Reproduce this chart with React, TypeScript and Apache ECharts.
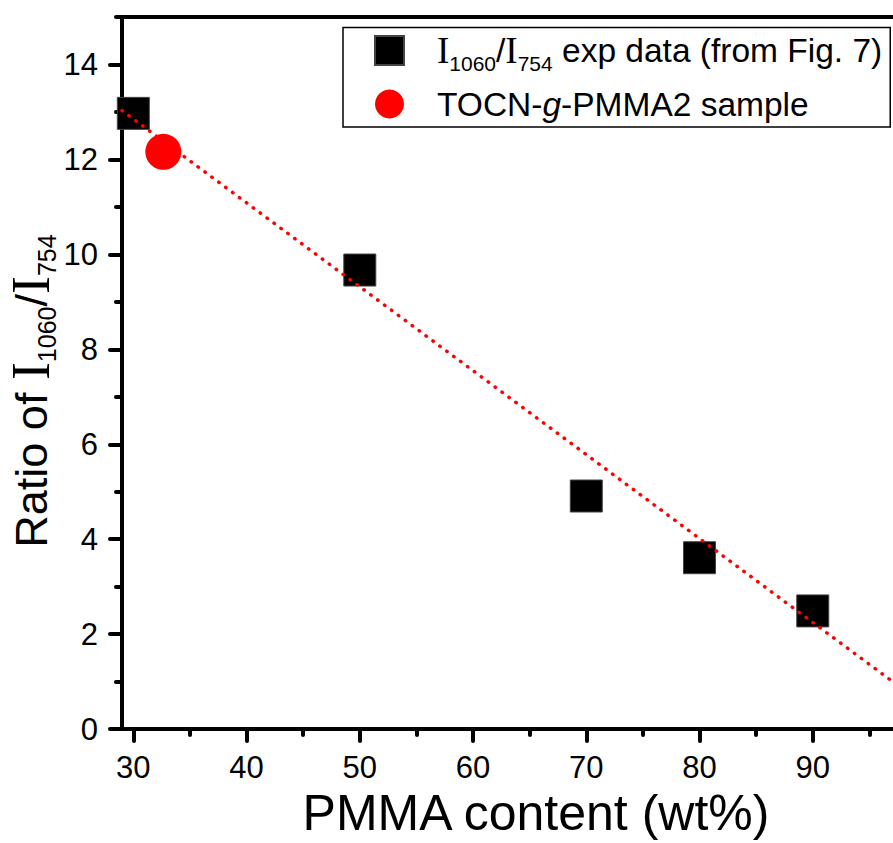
import React, { useEffect, useRef } from 'react';
import * as echarts from 'echarts';

const expName = 'I1060/I754 exp data (from Fig. 7)';
const sampleName = 'TOCN-g-PMMA2 sample';
const fitName = 'Linear fit';

const expX = [30, 50, 70, 80, 90];
const expY = [12.97, 9.67, 4.91, 3.61, 2.49];
const sampleX = [32.65];
const sampleY = [12.16];
const fitX = [29, 100];
const fitY = [13.03, 0.48];

const xMajorTicks = [30, 40, 50, 60, 70, 80, 90, 100];
const xTickLabels = [30, 40, 50, 60, 70, 80, 90];
const xMinorTicks = [35, 45, 55, 65, 75, 85, 95];
const yMajorTicks = [0, 2, 4, 6, 8, 10, 12, 14];
const yMinorTicks = [1, 3, 5, 7, 9, 11, 13, 15];

const xTitle = 'PMMA content (wt%)';
const yTitleRich = '{a|Ratio of }{i|I}{s|1060}{a|/}{i|I}{s|754}';

const SANS = 'Arial, "Liberation Sans", Helvetica, sans-serif';
const SERIF = '"Times New Roman", "Liberation Serif", serif';

const zip = (xs: number[], ys: number[]) => xs.map((x, i) => [x, ys[i]]);

const CHART_W = 960;
const CHART_H = 843;

export default function App() {
  const ref = useRef<HTMLDivElement>(null);

  useEffect(() => {
    if (!ref.current) return;
    const chart = echarts.init(ref.current, undefined, { renderer: 'svg' });

    const tickStyle = { color: '#000', width: 4, cap: 'round' as const };
    const axisLine = { show: true, lineStyle: { color: '#000', width: 4 } };

    const option: any = {
      animation: false,
      grid: {
        left: 122,
        top: 17,
        right: CHART_W - 926,
        bottom: 108,
        show: true,
        borderColor: '#000',
        borderWidth: 4,
        backgroundColor: 'transparent',
      },
      xAxis: [
        {
          type: 'value',
          min: 29,
          max: 100,
          position: 'bottom',
          axisLine,
          axisTick: { show: true, length: 12, lineStyle: tickStyle, customValues: xMajorTicks },
          axisLabel: {
            customValues: xTickLabels,
            margin: 23,
            fontSize: 31,
            fontFamily: SANS,
            color: '#000',
          },
          splitLine: { show: false },
          name: xTitle,
          nameLocation: 'middle',
          nameGap: 51,
          nameTextStyle: { fontSize: 50, fontFamily: SANS, color: '#000', padding: [0, 0, 0, 24] },
        },
        {
          type: 'value',
          min: 29,
          max: 100,
          position: 'bottom',
          axisLine: { show: false },
          axisTick: { show: true, length: 6, lineStyle: tickStyle, customValues: xMinorTicks },
          axisLabel: { show: false },
          splitLine: { show: false },
        },
      ],
      yAxis: [
        {
          type: 'value',
          min: 0,
          max: 15,
          position: 'left',
          axisLine,
          axisTick: { show: true, length: 12, lineStyle: tickStyle, customValues: yMajorTicks },
          axisLabel: {
            customValues: yMajorTicks,
            margin: 24,
            fontSize: 31,
            fontFamily: SANS,
            color: '#000',
          },
          splitLine: { show: false },
        },
        {
          type: 'value',
          min: 0,
          max: 15,
          position: 'left',
          axisLine: { show: false },
          axisTick: { show: true, length: 6, lineStyle: tickStyle, customValues: yMinorTicks },
          axisLabel: { show: false },
          splitLine: { show: false },
        },
      ],
      legend: {
        data: [
          { name: expName, icon: 'rect' },
          { name: sampleName, icon: 'circle' },
        ],
        orient: 'vertical',
        left: 343,
        top: 27.5,
        padding: [0, 8, 0, 31],
        itemGap: 7.5,
        itemWidth: 29,
        itemHeight: 29,
        borderColor: '#000',
        borderWidth: 1.5,
        backgroundColor: '#fff',
        selectedMode: false,
        formatter: (n: string) =>
          n === expName
            ? '{i|I}{s|1060}{t|/}{i|I}{s|754}{t| exp data (from Fig. 7)}'
            : '{t|TOCN-}{g|g}{t|-PMMA2 sample}',
        textStyle: {
          padding: [0, 0, 0, 28],
          color: '#000',
          fontFamily: SANS,
          fontSize: 33.5,
          lineHeight: 46,
          rich: {
            t: { fontFamily: SANS, fontSize: 33.5, lineHeight: 46, color: '#000' },
            i: { fontFamily: SERIF, fontSize: 37, lineHeight: 46, color: '#000' },
            s: { fontFamily: SANS, fontSize: 21, lineHeight: 21, verticalAlign: 'bottom', color: '#000' },
            g: { fontFamily: SANS, fontSize: 33.5, fontStyle: 'italic', lineHeight: 46, color: '#000' },
          },
        },
      },
      graphic: [
        {
          type: 'text',
          x: 31,
          y: 391,
          rotation: Math.PI / 2,
          silent: true,
          style: {
            text: yTitleRich,
            align: 'center',
            verticalAlign: 'middle',
            textAlign: 'center',
            textVerticalAlign: 'middle',
            fill: '#000',
            rich: {
              a: { fontFamily: SANS, fontSize: 45, lineHeight: 56, fill: '#000' },
              i: { fontFamily: SERIF, fontSize: 54, lineHeight: 56, fill: '#000' },
              s: { fontFamily: SANS, fontSize: 25, lineHeight: 43, verticalAlign: 'bottom', fill: '#000' },
            },
          },
        },
      ],
      series: [
        {
          name: expName,
          type: 'scatter',
          xAxisIndex: 0,
          yAxisIndex: 0,
          data: zip(expX, expY),
          symbol: 'rect',
          symbolSize: 32,
          itemStyle: { color: '#000', opacity: 1, borderColor: '#444', borderWidth: 1 },
          silent: true,
        },
        {
          name: fitName,
          type: 'line',
          xAxisIndex: 0,
          yAxisIndex: 0,
          data: zip(fitX, fitY),
          symbol: 'none',
          showSymbol: false,
          lineStyle: { color: '#ff0000', width: 3.5, type: [0.5, 8.1], cap: 'round' },
          silent: true,
        },
        {
          name: sampleName,
          type: 'scatter',
          xAxisIndex: 0,
          yAxisIndex: 0,
          data: zip(sampleX, sampleY),
          symbol: 'circle',
          symbolSize: 36,
          itemStyle: { color: '#ff0000', opacity: 1 },
          silent: true,
        },
      ],
    };

    chart.setOption(option);
    return () => chart.dispose();
  }, []);

  return (
    <div
      style={{
        position: 'fixed',
        left: 0,
        top: 0,
        width: 893,
        height: 843,
        overflow: 'hidden',
        background: '#fff',
      }}
    >
      <div ref={ref} style={{ width: CHART_W, height: CHART_H }} />
    </div>
  );
}
